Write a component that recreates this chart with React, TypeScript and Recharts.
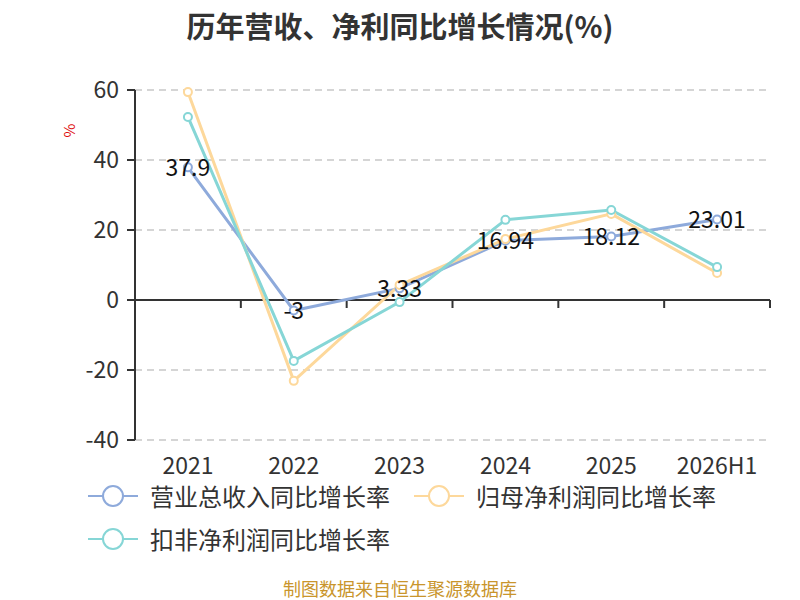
import React from "react";
import {
  LineChart,
  Line,
  XAxis,
  YAxis,
  CartesianGrid,
  ReferenceLine,
  LabelList,
} from "recharts";

const years = ["2021", "2022", "2023", "2024", "2025", "2026H1"];
const revenueGrowth = [37.9, -3, 3.33, 16.94, 18.12, 23.01];
const netProfitGrowth = [59.4, -23.1, 4.3, 17.4, 24.6, 7.7];
const deductedProfitGrowth = [52.3, -17.4, -0.6, 22.9, 25.7, 9.4];
const yTicks = [-40, -20, 0, 20, 40, 60];

const FONT = '"Noto Sans CJK SC", "Noto Sans", sans-serif';

const SERIES = [
  { key: "revenue", name: "营业总收入同比增长率", color: "#8eaadb" },
  { key: "netProfit", name: "归母净利润同比增长率", color: "#fdd89b" },
  { key: "deducted", name: "扣非净利润同比增长率", color: "#86d6d6" },
];

const data = years.map((year, i) => ({
  year,
  revenue: revenueGrowth[i],
  netProfit: netProfitGrowth[i],
  deducted: deductedProfitGrowth[i],
}));

// x axis line sits on zero, with tick marks on the band boundaries
function ZeroAxis(props: any) {
  const { x1, x2, y1 } = props;
  if (x1 == null || y1 == null) return null;
  const step = (x2 - x1) / years.length;
  return (
    <g>
      <line x1={x1} y1={y1} x2={x2} y2={y1} stroke="#333" strokeWidth={2} />
      {years.map((_, i) => (
        <line
          key={i}
          x1={x1 + step * (i + 1)}
          x2={x1 + step * (i + 1)}
          y1={y1}
          y2={y1 + 8}
          stroke="#333"
          strokeWidth={2}
        />
      ))}
    </g>
  );
}

function LegendItem({ name, color }: { name: string; color: string }) {
  return (
    <div style={{ display: "flex", alignItems: "center" }}>
      <svg width={50} height={26}>
        <line x1={0} y1={13} x2={50} y2={13} stroke={color} strokeWidth={2} />
        <circle cx={25} cy={13} r={10} fill="#fff" stroke={color} strokeWidth={2} />
      </svg>
      <span style={{ marginLeft: 12, fontSize: 24, color: "#333" }}>{name}</span>
    </div>
  );
}

export default function App() {
  return (
    <div
      style={{
        position: "absolute",
        left: 0,
        top: 0,
        width: 800,
        height: 600,
        background: "#fff",
        fontFamily: FONT,
        overflow: "hidden",
      }}
    >
      <div
        style={{
          position: "absolute",
          top: 4,
          width: 800,
          textAlign: "center",
          fontSize: 29,
          fontWeight: "bold",
          color: "#333",
        }}
      >
        历年营收、净利同比增长情况(%)
      </div>
      <div
        style={{
          position: "absolute",
          left: 62,
          top: 120,
          fontSize: 15,
          color: "#e01010",
          transform: "rotate(-90deg)",
        }}
      >
        %
      </div>

      <LineChart
        width={800}
        height={600}
        data={data}
        margin={{ top: 90, right: 30, left: 0, bottom: 120 }}
        style={{ fontFamily: FONT }}
      >
        <CartesianGrid
          vertical={false}
          stroke="#c8c8c8"
          strokeDasharray="7 5"
          strokeWidth={1.5}
        />
        <XAxis
          dataKey="year"
          scale="band"
          axisLine={false}
          tickLine={false}
          tick={{ fontSize: 23, fill: "#333" }}
          tickMargin={12}
          height={40}
          interval={0}
        />
        <YAxis
          domain={[-40, 60]}
          ticks={yTicks}
          width={135}
          axisLine={{ stroke: "#333", strokeWidth: 2 }}
          tickLine={{ stroke: "#333", strokeWidth: 2 }}
          tickSize={8}
          tick={{ fontSize: 23, fill: "#333" }}
          tickMargin={8}
        />
        <ReferenceLine y={0} shape={ZeroAxis} />
        {SERIES.map((s) => (
          <Line
            key={s.key}
            dataKey={s.key}
            name={s.name}
            type="linear"
            stroke={s.color}
            strokeWidth={3}
            dot={{ r: 4, fill: "#fff", stroke: s.color, strokeWidth: 2 }}
            activeDot={false}
            isAnimationActive={false}
          />
        ))}
        <Line
          dataKey="revenue"
          stroke="none"
          dot={false}
          activeDot={false}
          legendType="none"
          isAnimationActive={false}
        >
          <LabelList
            dataKey="revenue"
            position="center"
            fill="#111"
            fontSize={23}
          />
        </Line>
      </LineChart>

      <div style={{ position: "absolute", left: 88, top: 478 }}>
        <LegendItem name={SERIES[0].name} color={SERIES[0].color} />
      </div>
      <div style={{ position: "absolute", left: 414, top: 478 }}>
        <LegendItem name={SERIES[1].name} color={SERIES[1].color} />
      </div>
      <div style={{ position: "absolute", left: 88, top: 521 }}>
        <LegendItem name={SERIES[2].name} color={SERIES[2].color} />
      </div>

      <div
        style={{
          position: "absolute",
          top: 579,
          width: 800,
          textAlign: "center",
          fontSize: 18,
          lineHeight: "18px",
          color: "#c9952c",
        }}
      >
        制图数据来自恒生聚源数据库
      </div>
    </div>
  );
}
